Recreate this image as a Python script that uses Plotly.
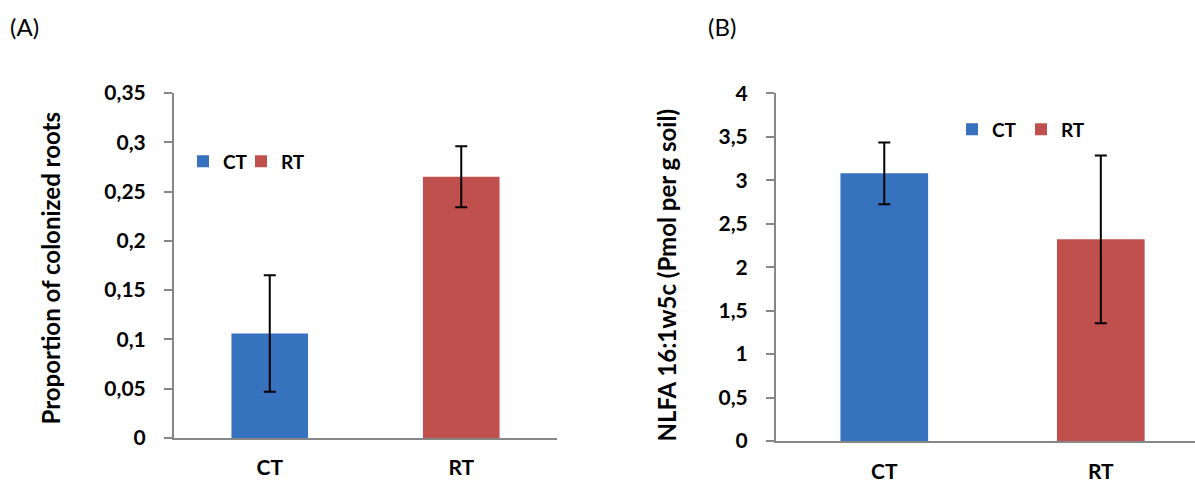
import plotly.graph_objects as go

# Panel A: proportion of colonized roots
treatments = ["CT", "RT"]
colonized = [0.106, 0.265]
colonized_err = [0.059, 0.031]
ticks_a = [0, 0.05, 0.1, 0.15, 0.2, 0.25, 0.3, 0.35]
ticklabels_a = ["0", "0,05", "0,1", "0,15", "0,2", "0,25", "0,3", "0,35"]

# Panel B: NLFA 16:1w5c
nlfa = [3.08, 2.32]
nlfa_err = [0.355, 0.965]
ticks_b = [0, 0.5, 1, 1.5, 2, 2.5, 3, 3.5, 4]
ticklabels_b = ["0", "0,5", "1", "1,5", "2", "2,5", "3", "3,5", "4"]

colors = {"CT": "#3672BE", "RT": "#C0504D"}
FONT = "Lato"
W, H = 1195, 484

fig = go.Figure()

# one legend box per entry so the keys can sit exactly where wanted
legends_a = ["legend", "legend2"]
legends_b = ["legend3", "legend4"]

for i, t in enumerate(treatments):
    fig.add_trace(go.Bar(
        x=[t], y=[colonized[i]], name=t, width=0.40,
        marker=dict(color=colors[t], line=dict(width=0)),
        error_y=dict(type="data", array=[colonized_err[i]], color="black",
                     thickness=2, width=6),
        xaxis="x", yaxis="y", legend=legends_a[i],
    ))
for i, t in enumerate(treatments):
    fig.add_trace(go.Bar(
        x=[t], y=[nlfa[i]], name=t, width=0.405,
        marker=dict(color=colors[t], line=dict(width=0)),
        error_y=dict(type="data", array=[nlfa_err[i]], color="black",
                     thickness=2, width=6),
        xaxis="x2", yaxis="y2", legend=legends_b[i],
    ))

axis_line = dict(showline=True, linecolor="#878787", linewidth=2,
                 showgrid=False, zeroline=False, automargin=False)
tick_font = dict(family=FONT, size=21, color="black", weight="bold")
legend_font = dict(family=FONT, size=19, color="black", weight="bold")
title_font = dict(family=FONT, size=24, color="black", weight="bold")


def legend_box(x_px, y_px):
    return dict(orientation="h", x=x_px / W, y=1 - y_px / H, xanchor="left",
                yanchor="middle", bgcolor="rgba(0,0,0,0)",
                font=legend_font, itemclick=False)


fig.update_layout(
    template="none",
    width=W, height=H,
    margin=dict(l=0, r=0, t=0, b=0, autoexpand=False),
    paper_bgcolor="white", plot_bgcolor="white",
    font=dict(family=FONT, color="black"),
    xaxis=dict(domain=[174 / W, 557 / W], anchor="y", type="category",
               range=[-0.5, 1.5], ticks="", tickfont=tick_font,
               ticklabelstandoff=10, **axis_line),
    yaxis=dict(domain=[46 / H, 391 / H], anchor="x", range=[0, 0.35],
               tickvals=ticks_a, ticktext=ticklabels_a, ticks="outside",
               ticklen=8, tickcolor="#878787", tickwidth=2,
               tickfont=tick_font, ticklabelstandoff=14, **axis_line),
    xaxis2=dict(domain=[776 / W, 1.0], anchor="y2", type="category",
                range=[-0.5, 1.435], ticks="", tickfont=tick_font,
                ticklabelstandoff=11, **axis_line),
    yaxis2=dict(domain=[43 / H, 390.7 / H], anchor="x2", range=[0, 4],
                tickvals=ticks_b, ticktext=ticklabels_b, ticks="outside",
                ticklen=8, tickcolor="#878787", tickwidth=2,
                tickfont=tick_font, ticklabelstandoff=14, **axis_line),
    legend=legend_box(183, 161.5),
    legend2=legend_box(241, 161.5),
    legend3=legend_box(952, 129.5),
    legend4=legend_box(1021, 129.5),
    showlegend=True,
)

fig.add_annotation(text="Proportion of colonized roots", textangle=-90,
                   x=50 / W, y=1 - 268.5 / H, xref="paper", yref="paper",
                   xanchor="center", yanchor="middle", showarrow=False,
                   font=title_font)
fig.add_annotation(text="NLFA 16:1w5c (Pmol per g soil)", textangle=-90,
                   x=666 / W, y=1 - 275.5 / H, xref="paper", yref="paper",
                   xanchor="center", yanchor="middle", showarrow=False,
                   font=title_font)
fig.add_annotation(text="(A)", x=8 / W, y=1 - 27 / H, xref="paper", yref="paper",
                   xanchor="left", yanchor="middle", showarrow=False,
                   font=dict(family=FONT, size=24, color="black"))
fig.add_annotation(text="(B)", x=706 / W, y=1 - 27 / H, xref="paper", yref="paper",
                   xanchor="left", yanchor="middle", showarrow=False,
                   font=dict(family=FONT, size=24, color="black"))

fig.write_html("out.html")
